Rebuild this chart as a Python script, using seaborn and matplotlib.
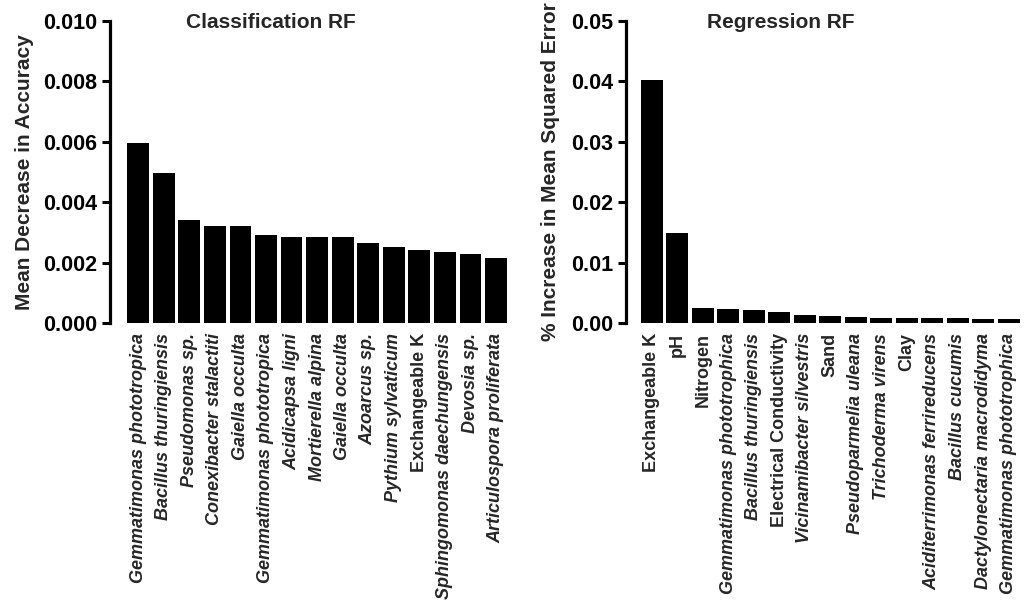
import numpy as np
import pandas as pd
import matplotlib
matplotlib.use("Agg")
import matplotlib.pyplot as plt
from matplotlib.ticker import FormatStrFormatter, MultipleLocator
import seaborn as sns

# ---- data ----
class_labels = [
    "Gemmatimonas phototropica", "Bacillus thuringiensis", "Pseudomonas sp.",
    "Conexibacter stalactiti", "Gaiella occulta", "Gemmatimonas phototropica",
    "Acidicapsa ligni", "Mortierella alpina", "Gaiella occulta", "Azoarcus sp.",
    "Pythium sylvaticum", "Exchangeable K", "Sphingomonas daechungensis",
    "Devosia sp.", "Articulospora proliferata",
]
class_values = [0.00597, 0.00496, 0.00341, 0.00321, 0.00321, 0.00291, 0.00286,
                0.00286, 0.00286, 0.00264, 0.00252, 0.00242, 0.00236, 0.00229, 0.00215]

reg_labels = [
    "Exchangeable K", "pH", "Nitrogen", "Gemmatimonas phototrophica",
    "Bacillus thuringiensis", "Electrical Conductivity", "Vicinamibacter silvestris",
    "Sand", "Pseudoparmelia uleana", "Trichoderma virens", "Clay",
    "Aciditerrimonas ferrireducens", "Bacillus cucumis", "Dactylonectaria macrodidyma",
    "Gemmatimonas phototrophica",
]
reg_values = [0.0402, 0.0149, 0.00248, 0.00231, 0.00220, 0.00192, 0.00132, 0.00116,
              0.00099, 0.00090, 0.00085, 0.00082, 0.00080, 0.00078, 0.00075]

non_species = {"Exchangeable K", "pH", "Nitrogen", "Electrical Conductivity", "Sand", "Clay"}

sns.set_style("white")
plt.rcParams["font.family"] = ["Liberation Sans", "DejaVu Sans"]
plt.rcParams["font.weight"] = "bold"

fig = plt.figure(figsize=(10.32, 6.08), dpi=100)
ax1 = fig.add_axes([0.1066, 0.4683, 0.3857, 0.4977])
ax2 = fig.add_axes([0.6066, 0.4683, 0.3828, 0.4977])


def panel(ax, labels, values, ylabel, title, ymax, step, fmt, xl, title_x, ylab_x):
    df = pd.DataFrame({"rank": np.arange(len(values)), "value": values})
    sns.barplot(data=df, x="rank", y="value", ax=ax, color="black",
                saturation=1, width=0.85, linewidth=0)
    ax.set_xlim(*xl)
    ax.set_ylim(0, ymax)
    ax.yaxis.set_major_locator(MultipleLocator(step))
    ax.yaxis.set_major_formatter(FormatStrFormatter(fmt))
    for s in ["top", "right", "bottom"]:
        ax.spines[s].set_visible(False)
    ax.spines["left"].set_linewidth(2.3)
    ax.spines["left"].set_color("black")
    ax.tick_params(axis="y", direction="out", length=6, width=2.2, pad=3,
                   labelsize=15.5, left=True, colors="black")
    ax.tick_params(axis="x", length=0, pad=7)
    ax.set_xticks(np.arange(len(labels)))
    ax.set_xticklabels(labels, rotation=90, ha="center", va="top", fontsize=13,
                       fontweight="bold")
    for t, lab in zip(ax.get_xticklabels(), labels):
        if lab not in non_species:
            t.set_fontstyle("italic")
    for t in ax.get_yticklabels():
        t.set_fontweight("bold")
    ax.set_xlabel("")
    ax.set_ylabel(ylabel, fontsize=15, fontweight="bold")
    ax.yaxis.set_label_coords(ylab_x, 0.5)
    ax.text(title_x, 0.995, title, transform=ax.transAxes, ha="center", va="center",
            fontsize=15, fontweight="bold")


panel(ax1, class_labels, class_values, "Mean Decrease in Accuracy", "Classification RF",
      0.010, 0.002, "%.3f", (-1.10, 14.47), 0.405, -0.19)
panel(ax2, reg_labels, reg_values, "% Increase in Mean Squared Error", "Regression RF",
      0.05, 0.01, "%.2f", (-1.01, 14.48), 0.392, -0.168)

fig.savefig("out.png", dpi=100)
